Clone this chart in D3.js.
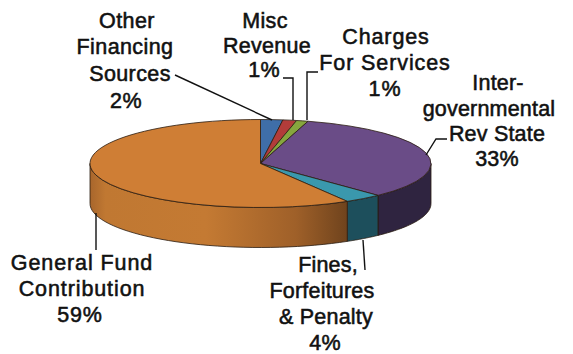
<!DOCTYPE html>
<html><head><meta charset="utf-8">
<script src="https://cdn.jsdelivr.net/npm/d3@7"></script>
<style>html,body{margin:0;background:#fff}svg{display:block}text{font-family:"Liberation Sans",Arial,sans-serif;font-size:21.5px;fill:#111;stroke:#111;stroke-width:.55px;text-anchor:middle}</style>
</head><body><svg id="c" width="573" height="354"></svg>
<script>
// Data
const categories=["Other Financing Sources","Misc Revenue","Charges For Services","Intergovernmental Rev State","Fines, Forfeitures & Penalty","General Fund Contribution"];
const values=[2.1,1.3,1.1,33.4,3.6,58.5];
const labelTexts=[
 ["Other","Financing","Sources","2%"],
 ["Misc","Revenue","1%"],
 ["Charges","For Services","1%"],
 ["Inter-","governmental","Rev State","33%"],
 ["Fines,","Forfeitures","& Penalty","4%"],
 ["General Fund","Contribution","59%"]
];

// Styling and layout
const topColors=["#3f6ea8","#b23c3a","#86a63e","#6a4c87","#3a98ad","#cf7e35"];
const sideColors=["#2a4a72","#7a2927","#5a702a","#2f2440","#1d4f5c","#b87030"];
const labelX=[[127,125,130,126],[265,267,264],[386,385,385],[498,489,497,497],[328,322,326,325],[82,82,80]];
const labelY=[[28,54,81,108],[28,53,77],[44,70,96],[90,116,141,166],[272,298,324,350],[270,296,322]];
const labelSpacing=[.4,.3,.9,.2,.2,.9];
const leaders=[
 [[175,75],[272,120]],
 [[283,78],[293,78],[293,120]],
 [[318,72],[307,72],[307,120]],
 [[447,139],[436,139],[426,155]],
 [[363,240],[365,270]],
 [[96,213],[96,250]]
];
const cx=260.5,cy=163.5,rx=170.5,ry=44,depth=40;

const svg=d3.select("#c");
const pie=d3.pie().sort(null).value(d=>d)(values);
const px=a=>cx+rx*Math.sin(a), py=a=>cy-ry*Math.cos(a);

const defs=svg.append("defs");
const grad=defs.append("linearGradient").attr("id","orangeSide").attr("gradientUnits","userSpaceOnUse")
 .attr("x1",cx-rx).attr("x2",px(pie[5].startAngle)).attr("y1",0).attr("y2",0);
[[0,"#a8662c"],[.06,"#c07832"],[.45,"#c47a33"],[.8,"#9f6029"],[1,"#6f431d"]].forEach(s=>grad.append("stop").attr("offset",s[0]).attr("stop-color",s[1]));

const line=d3.line();
function wall(a0,a1){
 const as=d3.range(0,41).map(i=>a0+(a1-a0)*i/40);
 const t=as.map(a=>[px(a),py(a)]), b=as.slice().reverse().map(a=>[px(a),py(a)+depth]);
 return line(t.concat(b))+"Z";
}
const front=pie.map((d,i)=>({i,a0:Math.max(d.startAngle,Math.PI/2),a1:Math.min(d.endAngle,Math.PI*1.5)})).filter(d=>d.a1>d.a0);
svg.append("g").selectAll("path").data(front).join("path")
 .attr("d",d=>wall(d.a0,d.a1))
 .attr("fill",d=>d.i===5?"url(#orangeSide)":sideColors[d.i])
 .attr("stroke","#2a1c10").attr("stroke-width",.8);

const arc=d3.arc().innerRadius(0).outerRadius(rx);
svg.append("g").attr("transform",`translate(${cx},${cy}) scale(1,${ry/rx})`)
 .selectAll("path").data(pie).join("path")
 .attr("d",arc).attr("fill",(d,i)=>topColors[i])
 .attr("stroke","#2a1c10").attr("stroke-width",.8).attr("vector-effect","non-scaling-stroke");

svg.append("g").selectAll("path").data(leaders).join("path")
 .attr("d",d=>line(d)).attr("fill","none").attr("stroke","#111").attr("stroke-width",1.4);

svg.append("g").selectAll("g").data(labelTexts).join("g")
 .style("letter-spacing",(d,i)=>labelSpacing[i]+"px")
 .each(function(lines,i){
  d3.select(this).selectAll("text").data(lines).join("text")
   .attr("x",(d,j)=>labelX[i][j]).attr("y",(d,j)=>labelY[i][j]).text(d=>d);
 });
</script></body></html>
